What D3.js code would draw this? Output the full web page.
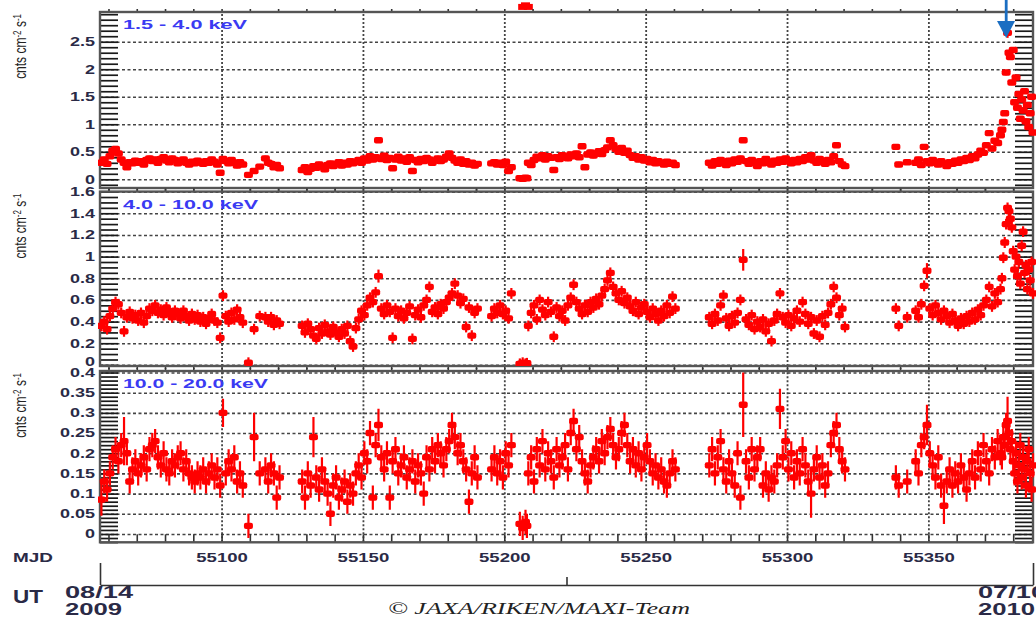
<!DOCTYPE html>
<html>
<head>
<meta charset="utf-8">
<script src="https://cdn.jsdelivr.net/npm/d3@7"></script>
<style>
  body { margin: 0; background: #fff; }
  svg { display: block; }
</style>
</head>
<body>
<svg id="chart" width="1036" height="618"></svg>
<script>
// MAXI one-day light curve, three energy bands
var mjd = [
  55057.5,55058.5,55059.5,55060.5,55061.5,55062.5,55063.5,55064.5,55065.5,55066.5,
  55067.5,55068.5,55069.5,55070.5,55071.5,55072.5,55073.5,55074.5,55075.5,55076.5,
  55077.5,55078.5,55079.5,55080.5,55081.5,55082.5,55083.5,55084.5,55085.5,55086.5,
  55087.5,55088.5,55089.5,55090.5,55091.5,55092.5,55093.5,55094.5,55095.5,55096.5,
  55097.5,55098.5,55099.5,55100.5,55101.5,55102.5,55103.5,55104.5,55105.5,55106.5,
  55107.5,
  55109.5,55111.5,55113.5,55115.5,55116.5,55117.5,55118.5,55119.5,55120.5,
  55128.5,55129.5,55130.5,55131.5,55132.5,55133.5,55134.5,55135.5,55136.5,55137.5,
  55138.5,55139.5,55140.5,55141.5,55142.5,55143.5,55144.5,55145.5,55146.5,55147.5,
  55148.5,55149.5,55150.5,55151.5,55152.5,55153.5,55154.5,55155.5,55156.5,55157.5,
  55158.5,55159.5,55160.5,55161.5,55162.5,55163.5,55164.5,55165.5,55166.5,55167.5,
  55168.5,55169.5,55170.5,55171.5,55172.5,55173.5,55174.5,55175.5,55176.5,55177.5,
  55178.5,55179.5,55180.5,55181.5,55182.5,55183.5,55184.5,55185.5,55186.5,55187.5,
  55188.5,55189.5,55190.5,
  55195.5,55196.5,55197.5,55198.5,55199.5,55200.5,55201.5,55202.5,
  55205.5,55206.5,55207.5,55208.0,
  55208.5,55209.5,55210.5,55211.5,55212.5,55213.5,55214.5,55215.5,55216.5,55217.5,
  55218.5,55219.5,55220.5,55221.5,55222.5,55223.5,55224.5,55225.5,55226.5,55227.5,
  55228.5,55229.5,55230.5,55231.5,55232.5,55233.5,55234.5,55235.5,55236.5,55237.5,
  55238.5,55239.5,55240.5,55241.5,55242.5,55243.5,55244.5,55245.5,55246.5,55247.5,
  55248.5,55249.5,55250.5,55251.5,55252.5,55253.5,55254.5,55255.5,55256.5,55257.5,
  55258.5,55259.5,55260.5,
  55272.5,55273.5,55274.5,55275.5,55276.5,55277.5,55278.5,55279.5,55280.5,55281.5,
  55282.5,55283.5,55284.5,55285.5,55286.5,55287.5,55288.5,55289.5,55290.5,55291.5,
  55292.5,55293.5,55294.5,55295.5,55296.5,55297.5,55298.5,55299.5,55300.5,55301.5,
  55302.5,55303.5,55304.5,55305.5,55306.5,55307.5,55308.5,55309.5,55310.5,55311.5,
  55312.5,55313.5,55314.5,55315.5,55316.5,55317.5,55318.5,55319.5,55320.5,
  55338.5,55339.5,55342.5,
  55345.5,55346.5,55347.5,55348.5,55349.5,55350.5,55351.5,55352.5,55353.5,55354.5,
  55355.5,55356.5,55357.5,55358.5,55359.5,55360.5,55361.5,55362.5,55363.5,55364.5,
  55365.5,55366.5,55367.5,55368.5,55369.5,55370.5,55371.5,55372.5,55373.5,55374.5,
  55375.5,
  55376.0,55376.5,55377.0,55377.5,55378.0,55378.5,55379.0,55379.5,55380.0,55380.5,
  55381.0,55381.5,55382.0,55382.5,55383.0,55383.5,55384.0,55384.5,55385.0,55385.5,
  55386.0,55386.5,55387.0
];

// 1.5 - 4.0 keV
var band1 = [
  0.30,0.36,0.28,0.42,0.52,0.55,0.47,0.36,0.30,0.22,
  0.31,0.29,0.34,0.30,0.33,0.27,0.35,0.38,0.33,0.36,
  0.30,0.37,0.40,0.34,0.31,0.38,0.35,0.29,0.33,0.36,
  0.30,0.27,0.32,0.29,0.34,0.31,0.28,0.33,0.30,0.36,
  0.32,0.27,0.12,0.37,0.33,0.29,0.35,0.30,0.25,0.31,
  0.27,
  0.08,0.15,0.23,0.38,0.30,0.28,0.22,0.26,0.20,
  0.17,0.22,0.13,0.19,0.24,0.21,0.27,0.23,0.18,0.26,
  0.29,0.24,0.28,0.31,0.25,0.30,0.27,0.33,0.29,0.32,
  0.35,0.30,0.38,0.34,0.42,0.36,0.40,0.71,0.37,0.43,
  0.35,0.39,0.20,0.36,0.41,0.34,0.38,0.32,0.40,0.15,
  0.35,0.31,0.37,0.33,0.39,0.36,0.30,0.34,0.38,0.33,
  0.36,0.41,0.47,0.39,0.34,0.30,0.36,0.28,0.33,0.27,
  0.30,0.25,0.28,
  0.29,0.31,0.27,0.30,0.26,0.32,0.15,0.22,
  0.02,0.01,0.03,0.02,
  0.30,0.26,0.35,0.41,0.38,0.44,0.36,0.42,0.39,0.17,
  0.40,0.37,0.44,0.41,0.38,0.45,0.42,0.47,0.40,0.60,
  0.22,0.45,0.49,0.43,0.47,0.51,0.46,0.53,0.58,0.71,
  0.62,0.55,0.50,0.57,0.48,0.52,0.44,0.39,0.42,0.36,
  0.40,0.34,0.37,0.31,0.35,0.29,0.33,0.30,0.27,0.32,
  0.28,0.30,0.26,
  0.30,0.25,0.33,0.28,0.35,0.31,0.26,0.34,0.29,0.36,
  0.32,0.38,0.71,0.33,0.28,0.35,0.30,0.24,0.33,0.29,
  0.37,0.31,0.27,0.34,0.30,0.36,0.32,0.38,0.33,0.29,
  0.35,0.31,0.37,0.33,0.40,0.36,0.44,0.34,0.30,0.37,
  0.32,0.28,0.35,0.31,0.42,0.62,0.33,0.27,0.24,
  0.59,0.27,0.31,
  0.30,0.36,0.26,0.59,0.33,0.29,0.35,0.31,0.27,0.33,
  0.29,0.24,0.31,0.28,0.34,0.30,0.36,0.33,0.39,0.35,
  0.42,0.38,0.45,0.52,0.48,0.62,0.84,0.56,0.70,0.66,
  0.80,
  0.90,1.04,1.20,1.94,2.66,2.30,2.22,1.76,2.35,1.40,
  1.85,1.30,1.55,1.10,1.45,1.25,1.60,1.05,1.35,0.95,
  1.20,1.50,0.85
];

// 4.0 - 10.0 keV
var band2 = [
  0.36,0.40,0.33,0.45,0.52,0.58,0.56,0.48,0.31,0.44,
  0.49,0.43,0.46,0.41,0.48,0.39,0.45,0.52,0.50,0.55,
  0.48,0.51,0.46,0.53,0.49,0.44,0.50,0.47,0.43,0.50,
  0.45,0.41,0.47,0.42,0.46,0.40,0.44,0.38,0.43,0.47,
  0.41,0.39,0.25,0.64,0.45,0.40,0.48,0.42,0.51,0.44,
  0.39,
  0.02,0.33,0.45,0.44,0.40,0.44,0.37,0.41,0.38,
  0.36,0.30,0.38,0.33,0.27,0.24,0.34,0.29,0.37,0.31,
  0.28,0.35,0.30,0.26,0.33,0.29,0.36,0.22,0.17,0.34,
  0.42,0.50,0.46,0.55,0.62,0.58,0.67,0.82,0.52,0.47,
  0.55,0.49,0.25,0.52,0.45,0.50,0.43,0.48,0.54,0.24,
  0.46,0.51,0.44,0.55,0.60,0.72,0.49,0.53,0.47,0.56,
  0.52,0.58,0.62,0.66,0.75,0.64,0.57,0.61,0.35,0.53,
  0.27,0.48,0.52,
  0.45,0.52,0.48,0.55,0.47,0.50,0.43,0.66,
  0.01,0.02,0.01,0.015,
  0.36,0.48,0.55,0.42,0.60,0.51,0.46,0.58,0.49,0.26,
  0.53,0.45,0.50,0.41,0.55,0.62,0.74,0.58,0.52,0.47,
  0.55,0.49,0.58,0.53,0.61,0.56,0.64,0.70,0.78,0.85,
  0.72,0.66,0.60,0.68,0.57,0.62,0.54,0.50,0.58,0.47,
  0.53,0.56,0.49,0.44,0.52,0.47,0.41,0.50,0.45,0.55,
  0.48,0.63,0.52,
  0.44,0.38,0.47,0.41,0.55,0.64,0.43,0.36,0.45,0.39,
  0.48,0.60,0.97,0.42,0.37,0.46,0.33,0.40,0.35,0.42,
  0.31,0.38,0.22,0.41,0.47,0.66,0.44,0.39,0.46,0.36,
  0.43,0.50,0.40,0.58,0.47,0.38,0.44,0.29,0.41,0.26,
  0.45,0.37,0.48,0.56,0.72,0.62,0.46,0.52,0.35,
  0.52,0.36,0.44,
  0.50,0.44,0.56,0.73,0.87,0.52,0.46,0.55,0.48,0.42,
  0.50,0.45,0.39,0.47,0.41,0.36,0.43,0.38,0.45,0.40,
  0.48,0.42,0.51,0.46,0.55,0.60,0.72,0.54,0.66,0.58,
  0.70,
  0.80,0.99,1.13,1.30,1.45,1.42,1.35,1.27,1.05,0.88,
  1.00,0.82,0.95,0.75,1.10,1.23,0.85,0.92,0.70,0.88,
  0.78,0.95,0.66
];

// 10.0 - 20.0 keV
var band3 = [
  0.085,0.13,0.11,0.15,0.19,0.21,0.18,0.22,0.23,0.20,
  0.13,0.16,0.18,0.15,0.17,0.19,0.16,0.21,0.22,0.23,
  0.19,0.17,0.20,0.16,0.15,0.18,0.17,0.19,0.20,0.16,
  0.18,0.15,0.14,0.13,0.15,0.14,0.16,0.13,0.15,0.17,
  0.14,0.16,0.12,0.30,0.15,0.18,0.16,0.19,0.13,0.15,
  0.12,
  0.02,0.24,0.15,0.16,0.13,0.17,0.15,0.09,0.14,
  0.13,0.09,0.15,0.12,0.24,0.14,0.11,0.16,0.13,0.10,
  0.05,0.12,0.14,0.09,0.11,0.13,0.08,0.12,0.10,0.15,
  0.17,0.14,0.20,0.18,0.25,0.09,0.22,0.27,0.19,0.16,
  0.20,0.09,0.18,0.21,0.15,0.17,0.19,0.14,0.16,0.18,
  0.13,0.17,0.15,0.10,0.19,0.16,0.21,0.18,0.22,0.20,
  0.17,0.21,0.23,0.27,0.24,0.20,0.22,0.18,0.16,0.08,
  0.15,0.19,0.14,
  0.16,0.19,0.15,0.18,0.14,0.20,0.17,0.22,
  0.025,0.015,0.03,0.02,
  0.15,0.19,0.13,0.21,0.17,0.23,0.16,0.20,0.18,0.14,
  0.21,0.17,0.19,0.22,0.16,0.25,0.28,0.21,0.24,0.18,
  0.15,0.13,0.17,0.19,0.21,0.18,0.23,0.20,0.24,0.26,
  0.22,0.19,0.21,0.25,0.27,0.22,0.18,0.21,0.17,0.20,
  0.16,0.19,0.22,0.18,0.15,0.17,0.14,0.16,0.13,0.12,
  0.15,0.18,0.16,
  0.17,0.21,0.15,0.19,0.23,0.16,0.13,0.18,0.15,0.12,
  0.20,0.09,0.32,0.18,0.14,0.21,0.16,0.19,0.21,0.12,
  0.15,0.11,0.14,0.13,0.17,0.31,0.19,0.23,0.16,0.20,
  0.14,0.18,0.15,0.21,0.17,0.13,0.10,0.16,0.19,0.14,
  0.17,0.12,0.15,0.22,0.25,0.27,0.21,0.18,0.16,
  0.14,0.12,0.13,
  0.18,0.15,0.22,0.24,0.27,0.20,0.17,0.14,0.19,0.12,
  0.07,0.13,0.16,0.12,0.15,0.13,0.17,0.14,0.11,0.15,
  0.18,0.14,0.20,0.16,0.22,0.18,0.15,0.21,0.19,0.23,
  0.20,
  0.19,0.24,0.22,0.27,0.28,0.25,0.21,0.23,0.18,0.15,
  0.20,0.13,0.17,0.22,0.14,0.19,0.16,0.12,0.18,0.21,
  0.15,0.11,0.17
];

// typical 1-sigma errors per band, and the points with long error bars
var bandErr = [0.05, 0.05, 0.03];
var longErr = [
  [55057.5, 2, 0.04], [55065.5, 2, 0.06], [55100.5, 2, 0.035], [55111.5, 2, 0.06],
  [55132.5, 2, 0.05], [55155.5, 2, 0.04], [55284.5, 2, 0.08], [55297.5, 2, 0.05],
  [55308.5, 2, 0.06], [55349.5, 2, 0.05], [55355.5, 2, 0.045], [55378.0, 2, 0.06],
  [55284.5, 1, 0.1], [55349.5, 1, 0.07], [55155.5, 1, 0.06], [55378.0, 0, 0.09]
];

// low bins of the (cropped) panel above
var topMjd = [55206.5, 55207.5, 55208.5];
var topVal = [0.01, 0.02, 0.01];

var bandLabels = ["1.5 - 4.0 keV", "4.0 - 10.0 keV", "10.0 - 20.0 keV"];
var yTicks = [
  [0, 0.5, 1, 1.5, 2, 2.5],
  [0, 0.2, 0.4, 0.6, 0.8, 1, 1.2, 1.4, 1.6],
  [0, 0.05, 0.1, 0.15, 0.2, 0.25, 0.3, 0.35, 0.4]
];
var mjdTicks = [55100, 55150, 55200, 55250, 55300, 55350];
var utTicks = [55057, 55222, 55387];
var utLabels = [["08/14", "2009"], null, ["07/10", "2010"]];

if (mjd.length !== band1.length || mjd.length !== band2.length || mjd.length !== band3.length) {
  console.error("length mismatch", mjd.length, band1.length, band2.length, band3.length);
}

var svg = d3.select("#chart");
var sans = "'Liberation Sans', Arial, sans-serif";
var ink = "#2a2a46";
var frameL = 100, frameR = 1033;

var x = d3.scaleLinear().domain([55057, 55387]).range([frameL, frameR]);

var panels = [
  {top: 12, bottom: 188, lo: -0.158, hi: 3.04, minor: 0.1, labelW: 124},
  {top: 191.6, bottom: 366, lo: -0.01, hi: 1.6, minor: 0.05, labelW: 135},
  {top: 371, bottom: 542.3, lo: -0.0206, hi: 0.4037, minor: 0.01, labelW: 145}
];
var bands = [band1, band2, band3];

function errOf(i, m) {
  var e = bandErr[i];
  longErr.forEach(function(r) { if (r[0] === m && r[1] === i) e = r[2]; });
  return e;
}

// cut-off panel above: only its low bins poke into view
var yTop = d3.scaleLinear().domain([0, 1]).range([8.5, -150]);
svg.append("g").selectAll("rect")
  .data(topMjd)
  .join("rect")
    .attr("x", function(d) { return x(d) - 4.5; })
    .attr("y", function(d, k) { return yTop(topVal[k]) - 3; })
    .attr("width", 9).attr("height", 6)
    .attr("fill", "#ff0000");

panels.forEach(function(p, i) {
  var y = d3.scaleLinear().domain([p.lo, p.hi]).range([p.bottom, p.top]);
  var g = svg.append("g");

  if (i > 0) {
    // blank strip so the previous panel's bottom label is cut like the original
    g.append("rect").attr("x", 0).attr("y", p.top - 4)
      .attr("width", frameL - 2).attr("height", p.bottom - p.top + 6)
      .attr("fill", "#fff");
  }

  // horizontal dotted grid
  g.append("g").attr("transform", "translate(" + frameL + ",0)")
    .call(d3.axisRight(y).tickValues(yTicks[i]).tickSize(frameR - frameL).tickFormat(""))
    .call(function(s) { s.select(".domain").remove(); })
    .selectAll("line")
      .attr("stroke", "#444").attr("stroke-width", 1.6).attr("stroke-dasharray", "3,2.5");

  // vertical dotted grid
  g.append("g").attr("transform", "translate(0," + p.bottom + ")")
    .call(d3.axisBottom(x).tickValues(mjdTicks).tickSize(-(p.bottom - p.top)).tickFormat(""))
    .call(function(s) { s.select(".domain").remove(); })
    .selectAll("line")
      .attr("stroke", "#444").attr("stroke-width", 1.8).attr("stroke-dasharray", "2,2");

  // long minor ticks on both sides
  var k0 = Math.ceil(p.lo / p.minor - 1e-6), k1 = Math.floor(p.hi / p.minor + 1e-6);
  var minor = d3.range(k0, k1 + 1).map(function(k) { return k * p.minor; });
  g.append("g").attr("transform", "translate(" + frameL + ",0)")
    .call(d3.axisRight(y).tickValues(minor).tickSize(18).tickFormat(""))
    .call(function(s) { s.select(".domain").remove(); })
    .selectAll("line").attr("stroke", "#1a1a1a").attr("stroke-width", 1.7);
  g.append("g").attr("transform", "translate(" + frameR + ",0)")
    .call(d3.axisLeft(y).tickValues(minor).tickSize(18).tickFormat(""))
    .call(function(s) { s.select(".domain").remove(); })
    .selectAll("line").attr("stroke", "#1a1a1a").attr("stroke-width", 1.7);

  // 10-day ticks on top and bottom edges
  var days = d3.range(55060, 55390, 10);
  g.append("g").attr("transform", "translate(0," + p.top + ")")
    .call(d3.axisTop(x).tickValues(days).tickSize(3).tickFormat(""))
    .call(function(s) { s.select(".domain").remove(); })
    .selectAll("line").attr("stroke", "#333").attr("stroke-width", 1.6);
  g.append("g").attr("transform", "translate(0," + p.bottom + ")")
    .call(d3.axisBottom(x).tickValues(days).tickSize(i === 2 ? -8 : 3).tickFormat(""))
    .call(function(s) { s.select(".domain").remove(); })
    .selectAll("line").attr("stroke", "#333").attr("stroke-width", 1.6);

  // frame
  g.append("rect")
    .attr("x", frameL).attr("y", p.top)
    .attr("width", frameR - frameL).attr("height", p.bottom - p.top)
    .attr("fill", "none").attr("stroke", "#555").attr("stroke-width", 2.4);

  // data
  g.append("clipPath").attr("id", "clip" + i)
    .append("rect").attr("x", frameL - 2).attr("y", p.top)
    .attr("width", 1036 - frameL + 2).attr("height", p.bottom - p.top);

  var pts = mjd.map(function(m, k) { return {m: m, v: bands[i][k], e: errOf(i, m)}; });
  var dg = g.append("g").attr("clip-path", "url(#clip" + i + ")");
  dg.append("g").selectAll("line")
    .data(pts)
    .join("line")
      .attr("x1", function(d) { return x(d.m); })
      .attr("x2", function(d) { return x(d.m); })
      .attr("y1", function(d) { return y(d.v - d.e); })
      .attr("y2", function(d) { return y(d.v + d.e); })
      .attr("stroke", "#ff0000").attr("stroke-width", 2.2);
  dg.append("g").selectAll("rect")
    .data(pts)
    .join("rect")
      .attr("x", function(d) { return x(d.m) - 4.5; })
      .attr("y", function(d) { return y(d.v) - 3.2; })
      .attr("width", 9).attr("height", 6.4).attr("rx", 2)
      .attr("fill", "#ff0000");

  // y tick labels (the bottom "0" of the middle panel sits a little higher, half hidden)
  var ax = g.append("g").attr("transform", "translate(" + frameL + ",0)")
    .call(d3.axisLeft(y).tickValues(yTicks[i]).tickSize(0).tickPadding(5).tickFormat(d3.format("~g")));
  ax.select(".domain").remove();
  ax.selectAll("text")
    .attr("x", -5 / 1.5).attr("transform", "scale(1.5,1)")
    .attr("dy", function(d) { return (i === 1 && d === 0) ? "0.05em" : "0.32em"; })
    .attr("fill", ink).style("font", "bold 12px " + sans);

  // band label
  g.append("text")
    .attr("x", 123).attr("y", p.top + 17)
    .attr("textLength", p.labelW).attr("lengthAdjust", "spacingAndGlyphs")
    .attr("fill", "#3a3af2").style("font", "bold 13px " + sans)
    .text(bandLabels[i]);

  // y title
  var t = g.append("text")
    .attr("transform", "translate(26," + (p.top + 2) + ") scale(1.3,1) rotate(-90)")
    .attr("text-anchor", "end").attr("fill", "#222")
    .style("font", "12px " + sans);
  t.append("tspan").text("cnts cm");
  t.append("tspan").attr("dy", -4).style("font-size", "8px").text("-2");
  t.append("tspan").attr("dy", 4).text(" s");
  t.append("tspan").attr("dy", -4).style("font-size", "8px").text("-1");
});

// MJD labels
var p3 = panels[2];
var mx = svg.append("g").attr("transform", "translate(0," + p3.bottom + ")")
  .call(d3.axisBottom(x).tickValues(mjdTicks).tickSize(0).tickPadding(11).tickFormat(d3.format("d")));
mx.select(".domain").remove();
mx.selectAll("text").attr("transform", "scale(1.55,1)")
  .attr("fill", ink).style("font", "bold 12px " + sans);
svg.append("text").attr("x", 13).attr("y", 561.5)
  .attr("textLength", 40).attr("lengthAdjust", "spacingAndGlyphs")
  .attr("fill", ink).style("font", "bold 12px " + sans).text("MJD");

// UT axis
var ut = svg.append("g").attr("transform", "translate(0,585)");
ut.call(d3.axisTop(x).tickValues([utTicks[0], utTicks[2]]).tickSize(22).tickSizeOuter(0).tickFormat(""));
ut.append("g").call(d3.axisTop(x).tickValues([utTicks[1]]).tickSize(8).tickFormat(""))
  .select(".domain").remove();
ut.selectAll("path, line").attr("stroke", "#333").attr("stroke-width", 1.6);

svg.append("text").attr("x", 13).attr("y", 603)
  .attr("textLength", 30).attr("lengthAdjust", "spacingAndGlyphs")
  .attr("fill", ink).style("font", "bold 18px " + sans).text("UT");
utLabels.forEach(function(lab, k) {
  if (!lab) return;
  var left = k === 0 ? x(utTicks[k]) - 35 : 978;
  svg.append("text").attr("x", left).attr("y", 598)
    .attr("textLength", 68).attr("lengthAdjust", "spacingAndGlyphs")
    .attr("fill", ink).style("font", "bold 16px " + sans).text(lab[0]);
  svg.append("text").attr("x", left).attr("y", 615)
    .attr("textLength", 57).attr("lengthAdjust", "spacingAndGlyphs")
    .attr("fill", ink).style("font", "bold 16px " + sans).text(lab[1]);
});

svg.append("text").attr("x", 388).attr("y", 614)
  .attr("textLength", 302).attr("lengthAdjust", "spacingAndGlyphs")
  .attr("fill", "#222").style("font", "italic 17px 'Liberation Serif', 'Times New Roman', serif")
  .text("\u00a9 JAXA/RIKEN/MAXI-Team");

// blue arrow marking the flare peak
var ag = svg.append("g").attr("fill", "#1b6ec2").attr("stroke", "none");
ag.append("rect").attr("x", 1004.8).attr("y", -2).attr("width", 2.8).attr("height", 26);
ag.append("path").attr("d", "M997,21 L1015,21 L1006.2,38 Z");
</script>
</body>
</html>
